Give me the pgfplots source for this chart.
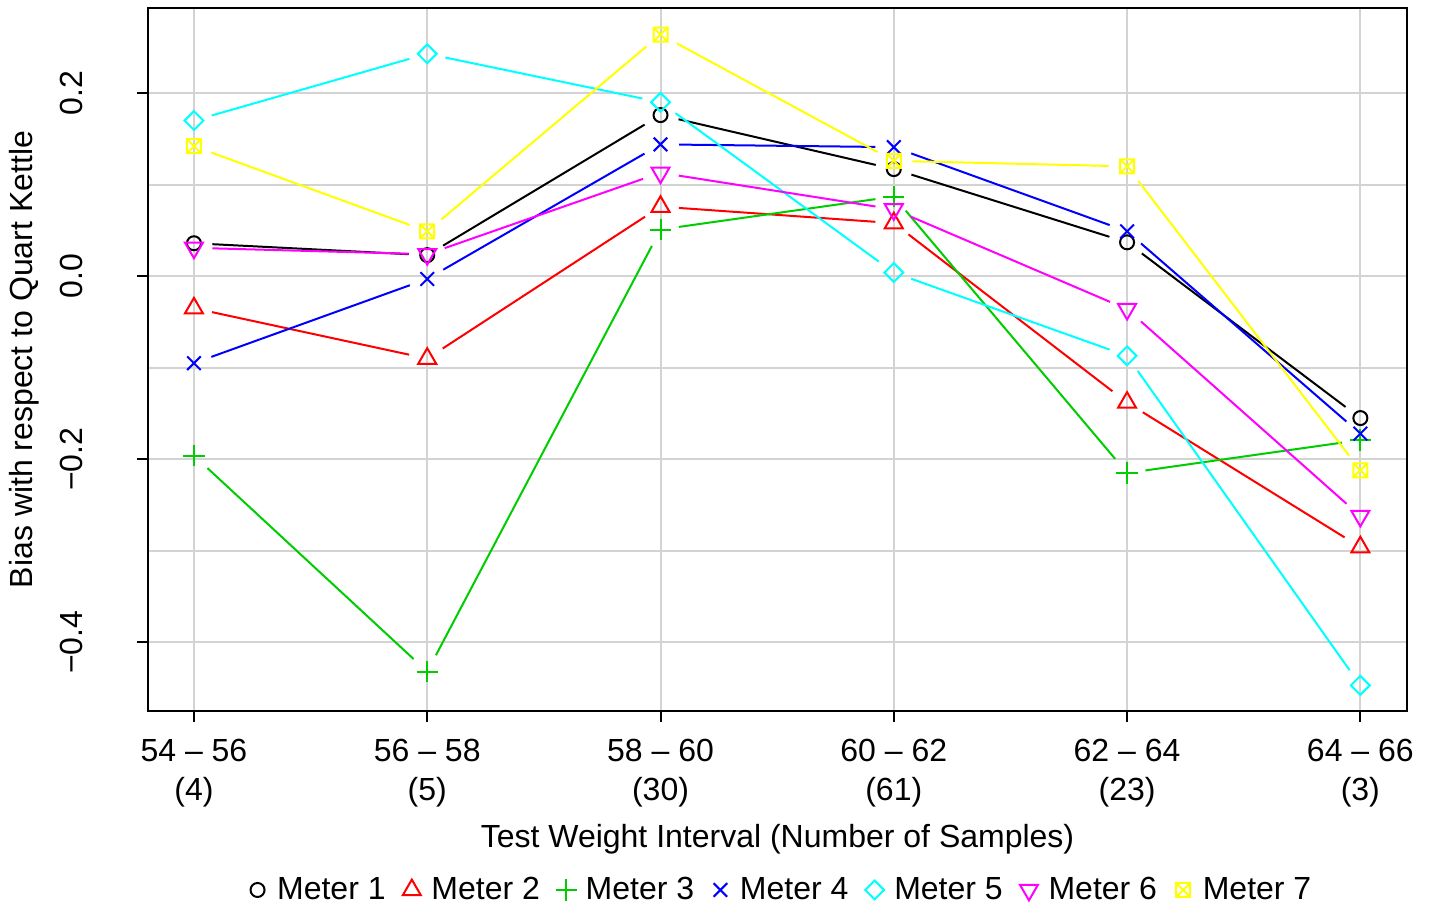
\documentclass[border=0pt]{standalone}
\usepackage{fontspec}
\setmainfont{Liberation Sans}
\usepackage{pgfplots}
\usepackage{pgfplotstable}
\pgfplotsset{compat=1.18}
\usetikzlibrary{plotmarks}
\definecolor{rgreen}{HTML}{00CD00}
\definecolor{rgrid}{HTML}{D3D3D3}
\definecolor{rcyan}{HTML}{00FFFF}
\definecolor{rmag}{HTML}{FF00FF}
\definecolor{ryel}{HTML}{FFFF00}
\definecolor{rred}{HTML}{FF0000}
\definecolor{rblue}{HTML}{0000FF}

\pgfdeclareplotmark{rcirc}{%
  \pgfpathcircle{\pgfqpoint{0pt}{0pt}}{\pgfplotmarksize}%
  \pgfusepathqstroke}
\pgfdeclareplotmark{rx}{%
  \pgfpathmoveto{\pgfqpoint{-\pgfplotmarksize}{-\pgfplotmarksize}}%
  \pgfpathlineto{\pgfqpoint{\pgfplotmarksize}{\pgfplotmarksize}}%
  \pgfpathmoveto{\pgfqpoint{-\pgfplotmarksize}{\pgfplotmarksize}}%
  \pgfpathlineto{\pgfqpoint{\pgfplotmarksize}{-\pgfplotmarksize}}%
  \pgfusepathqstroke}
\pgfdeclareplotmark{rplus}{%
  \pgfpathmoveto{\pgfqpoint{-\pgfplotmarksize}{0pt}}%
  \pgfpathlineto{\pgfqpoint{\pgfplotmarksize}{0pt}}%
  \pgfpathmoveto{\pgfqpoint{0pt}{\pgfplotmarksize}}%
  \pgfpathlineto{\pgfqpoint{0pt}{-\pgfplotmarksize}}%
  \pgfusepathqstroke}
\pgfdeclareplotmark{rtriup}{%
  \pgfpathmoveto{\pgfqpoint{0pt}{\pgfplotmarksize}}%
  \pgfpathlineto{\pgfqpoint{0.866\pgfplotmarksize}{-0.5\pgfplotmarksize}}%
  \pgfpathlineto{\pgfqpoint{-0.866\pgfplotmarksize}{-0.5\pgfplotmarksize}}%
  \pgfpathclose\pgfusepathqstroke}
\pgfdeclareplotmark{rtridown}{%
  \pgfpathmoveto{\pgfqpoint{0pt}{-\pgfplotmarksize}}%
  \pgfpathlineto{\pgfqpoint{0.866\pgfplotmarksize}{0.5\pgfplotmarksize}}%
  \pgfpathlineto{\pgfqpoint{-0.866\pgfplotmarksize}{0.5\pgfplotmarksize}}%
  \pgfpathclose\pgfusepathqstroke}
\pgfdeclareplotmark{rdiamond}{%
  \pgfpathmoveto{\pgfqpoint{0pt}{\pgfplotmarksize}}%
  \pgfpathlineto{\pgfqpoint{\pgfplotmarksize}{0pt}}%
  \pgfpathlineto{\pgfqpoint{0pt}{-\pgfplotmarksize}}%
  \pgfpathlineto{\pgfqpoint{-\pgfplotmarksize}{0pt}}%
  \pgfpathclose\pgfusepathqstroke}
\pgfdeclareplotmark{rboxx}{%
  \pgfpathmoveto{\pgfqpoint{-\pgfplotmarksize}{-\pgfplotmarksize}}%
  \pgfpathlineto{\pgfqpoint{\pgfplotmarksize}{-\pgfplotmarksize}}%
  \pgfpathlineto{\pgfqpoint{\pgfplotmarksize}{\pgfplotmarksize}}%
  \pgfpathlineto{\pgfqpoint{-\pgfplotmarksize}{\pgfplotmarksize}}%
  \pgfpathclose
  \pgfpathmoveto{\pgfqpoint{-\pgfplotmarksize}{-\pgfplotmarksize}}%
  \pgfpathlineto{\pgfqpoint{\pgfplotmarksize}{\pgfplotmarksize}}%
  \pgfpathmoveto{\pgfqpoint{-\pgfplotmarksize}{\pgfplotmarksize}}%
  \pgfpathlineto{\pgfqpoint{\pgfplotmarksize}{-\pgfplotmarksize}}%
  \pgfusepathqstroke}

\pgfplotstableread{
x y
0 0.036
1 0.023
2 0.176
3 0.117
4 0.037
5 -0.155
}\mA
\pgfplotstableread{
x y
0 -0.035
1 -0.090
2 0.076
3 0.058
4 -0.138
5 -0.296
}\mB
\pgfplotstableread{
x y
0 -0.196
1 -0.432
2 0.051
3 0.087
4 -0.215
5 -0.179
}\mC
\pgfplotstableread{
x y
0 -0.095
1 -0.003
2 0.144
3 0.141
4 0.049
5 -0.172
}\mD
\pgfplotstableread{
x y
0 0.170
1 0.243
2 0.190
3 0.004
4 -0.087
5 -0.447
}\mE
\pgfplotstableread{
x y
0 0.031
1 0.024
2 0.113
3 0.073
4 -0.036
5 -0.262
}\mF
\pgfplotstableread{
x y
0 0.142
1 0.049
2 0.264
3 0.126
4 0.120
5 -0.212
}\mG

\newcommand{\segs}[2]{%
  \pgfplotsinvokeforeach{0:1,1:2,2:3,3:4,4:5}{%
    \addplot[#2, line width=1pt, no markers, forget plot,
      restrict x to domain=##1, shorten >=9.25pt, shorten <=9.25pt] table[x=x,y=y] {#1};}%
}

\begin{document}
\begin{tikzpicture}[font=\fontsize{16}{19.5}\selectfont]
\begin{axis}[
  name=ax, scale only axis, width=629.5pt, height=351.5pt,
  xmin=-0.197, xmax=5.2, ymin=-0.475, ymax=0.293,
  xtick={0,1,2,3,4,5},
  xticklabels={54 – 56\\(4), 56 – 58\\(5), 58 – 60\\(30), 60 – 62\\(61), 62 – 64\\(23), 64 – 66\\(3)},
  xticklabel style={align=center, anchor=north, inner sep=0pt, yshift=-8.5pt},
  ytick={-0.4,-0.2,0,0.2},
  yticklabels={−0.4,−0.2,0.0,0.2},
  yticklabel style={xshift=-27pt, rotate=90, anchor=base, inner sep=0pt},
  minor ytick={-0.3,-0.1,0.1},
  grid=both,
  major grid style={draw=rgrid, line width=1pt},
  minor grid style={draw=rgrid, line width=1pt},
  tick align=outside, major tick length=5.5pt, minor tick length=0pt,
  tick pos=left,
  tick style={black, line width=1pt},
  axis line style={line width=1pt},
  every axis x label/.style={at={([yshift=-68.25pt]rel axis cs:0.5,0)}, anchor=base},
  every axis y label/.style={at={([xshift=-57.5pt]rel axis cs:0,0.5)}, rotate=90, anchor=base},
  xlabel={Test Weight Interval (Number of Samples)},
  ylabel={Bias with respect to Quart Kettle},
  legend style={at={(0.4951,-0.2546)}, anchor=center, draw=none, fill=none,
    legend columns=-1, column sep=0pt, nodes={inner xsep=0pt, inner ysep=1pt}},
  legend image code/.code={\path (-12.9pt,0pt) (9.6pt,0pt);
    \draw[#1] plot coordinates {(0pt,0pt)};},
]
\segs{\mA}{black}
\addplot[black, only marks, mark=rcirc, mark options={solid, line width=1pt}, mark size=3.5pt] table[x=x,y=y] {\mA};
\addlegendentry{Meter 1}
\segs{\mB}{rred}
\addplot[rred, only marks, mark=rtriup, mark options={solid, line width=1pt}, mark size=5.2pt] table[x=x,y=y] {\mB};
\addlegendentry{Meter 2}
\segs{\mC}{rgreen}
\addplot[rgreen, only marks, mark=rplus, mark options={solid, line width=1pt}, mark size=5.3pt] table[x=x,y=y] {\mC};
\addlegendentry{Meter 3}
\segs{\mD}{rblue}
\addplot[rblue, only marks, mark=rx, mark options={solid, line width=1pt}, mark size=3.4pt] table[x=x,y=y] {\mD};
\addlegendentry{Meter 4}
\segs{\mE}{rcyan}
\addplot[rcyan, only marks, mark=rdiamond, mark options={solid, line width=1pt}, mark size=4.7pt] table[x=x,y=y] {\mE};
\addlegendentry{Meter 5}
\segs{\mF}{rmag}
\addplot[rmag, only marks, mark=rtridown, mark options={solid, line width=1pt}, mark size=5.2pt] table[x=x,y=y] {\mF};
\addlegendentry{Meter 6}
\segs{\mG}{ryel}
\addplot[ryel, only marks, mark=rboxx, mark options={solid, line width=1pt}, mark size=3.5pt] table[x=x,y=y] {\mG};
\addlegendentry{Meter 7}
\end{axis}
\path ([shift={(-74pt,-100.5pt)}]ax.south west) rectangle ([shift={(13pt,4pt)}]ax.north east);
\end{tikzpicture}
\end{document}
